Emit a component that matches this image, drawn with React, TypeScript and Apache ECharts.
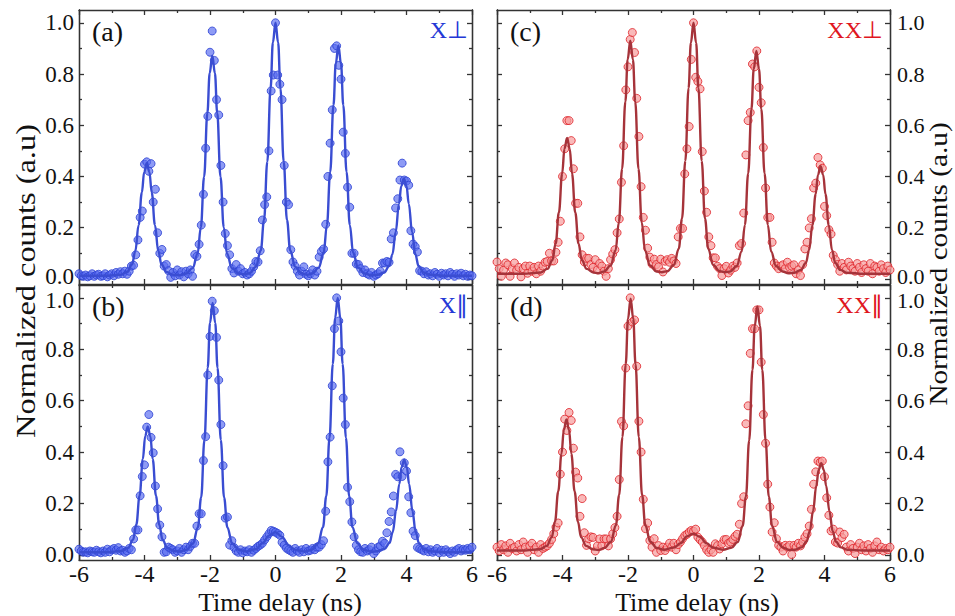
import React, { useEffect, useRef } from "react";
import * as echarts from "echarts";

// time bins (ns), 1/15 ns spacing from -6 to 6
const TIME: number[] = Array.from({ length: 181 }, (_, i) => Math.round((-6 + i / 15) * 1000) / 1000);

const X_TICK_LABELS = ["-6", "-4", "-2", "0", "2", "4", "6"];
const Y_MAJOR = [0, 0.2, 0.4, 0.6, 0.8, 1.0];
const Y_MINOR = [0.1, 0.3, 0.5, 0.7, 0.9];

// (a) X perpendicular
const COUNTS_A = [
  0.020, 0.012, 0.010, 0.015, 0.008, 0.012, 0.020, 0.010, 0.015, 0.018,
  0.010, 0.012, 0.020, 0.008, 0.015, 0.020, 0.012, 0.025, 0.018, 0.028,
  0.020, 0.030, 0.018, 0.030, 0.050, 0.053, 0.094, 0.152, 0.240, 0.265,
  0.448, 0.457, 0.420, 0.450, 0.300, 0.350, 0.180, 0.100, 0.115, 0.050,
  0.056, 0.032, 0.006, 0.025, 0.012, 0.035, 0.015, 0.028, 0.008, 0.030,
  0.020, 0.035, 0.010, 0.095, 0.088, 0.135, 0.210, 0.330, 0.510, 0.635,
  0.885, 0.968, 0.853, 0.700, 0.640, 0.443, 0.300, 0.177, 0.130, 0.094,
  0.040, 0.023, 0.056, 0.030, 0.040, 0.020, 0.025, 0.015, 0.020, 0.030,
  0.047, 0.068, 0.066, 0.110, 0.230, 0.290, 0.320, 0.500, 0.734, 0.796,
  1.000, 0.796, 0.760, 0.700, 0.443, 0.300, 0.290, 0.114, 0.066, 0.050,
  0.030, 0.015, 0.030, 0.047, 0.018, 0.012, 0.020, 0.035, 0.015, 0.030,
  0.085, 0.107, 0.117, 0.213, 0.400, 0.530, 0.660, 0.900, 0.910, 0.834,
  0.780, 0.573, 0.490, 0.358, 0.280, 0.100, 0.100, 0.058, 0.056, 0.040,
  0.025, 0.035, 0.020, 0.015, 0.025, 0.010, 0.015, 0.020, 0.030, 0.062,
  0.062, 0.068, 0.065, 0.156, 0.180, 0.277, 0.313, 0.386, 0.452, 0.386,
  0.382, 0.366, 0.188, 0.136, 0.126, 0.105, 0.032, 0.030, 0.020, 0.028,
  0.015, 0.020, 0.012, 0.025, 0.018, 0.010, 0.022, 0.015, 0.020, 0.012,
  0.025, 0.018, 0.010, 0.020, 0.015, 0.022, 0.012, 0.018, 0.010, 0.015,
  0.012,
];

// (b) X parallel
const COUNTS_B = [
  0.022, 0.015, 0.010, 0.012, 0.008, 0.015, 0.012, 0.010, 0.018, 0.012,
  0.008, 0.015, 0.010, 0.022, 0.012, 0.020, 0.025, 0.018, 0.028, 0.015,
  0.018, 0.010, 0.015, 0.025, 0.020, 0.062, 0.097, 0.097, 0.230, 0.305,
  0.350, 0.497, 0.546, 0.457, 0.397, 0.268, 0.179, 0.116, 0.070, 0.010,
  0.012, 0.030, 0.025, 0.020, 0.010, 0.015, 0.025, 0.010, 0.020, 0.030,
  0.020, 0.033, 0.045, 0.045, 0.112, 0.160, 0.160, 0.367, 0.460, 0.700,
  0.850, 0.987, 0.950, 0.846, 0.680, 0.507, 0.347, 0.143, 0.147, 0.038,
  0.055, 0.029, 0.015, 0.010, 0.020, 0.008, 0.015, 0.012, 0.020, 0.010,
  0.018, 0.025, 0.033, 0.038, 0.045, 0.058, 0.070, 0.082, 0.095, 0.092,
  0.088, 0.083, 0.076, 0.049, 0.038, 0.026, 0.020, 0.015, 0.010, 0.025,
  0.015, 0.010, 0.020, 0.012, 0.025, 0.015, 0.018, 0.025, 0.020, 0.030,
  0.030, 0.040, 0.055, 0.170, 0.362, 0.458, 0.658, 0.880, 1.000, 0.910,
  0.790, 0.610, 0.507, 0.263, 0.207, 0.128, 0.070, 0.037, 0.020, 0.012,
  0.010, 0.025, 0.015, 0.020, 0.030, 0.005, 0.015, 0.030, 0.035, 0.053,
  0.045, 0.086, 0.130, 0.167, 0.229, 0.313, 0.304, 0.401, 0.305, 0.358,
  0.326, 0.226, 0.164, 0.092, 0.075, 0.029, 0.024, 0.020, 0.015, 0.025,
  0.012, 0.020, 0.010, 0.015, 0.025, 0.008, 0.018, 0.010, 0.020, 0.012,
  0.005, 0.015, 0.010, 0.020, 0.025, 0.015, 0.022, 0.018, 0.025, 0.020,
  0.030,
];

// (c) XX perpendicular
const COUNTS_C = [
  0.066, 0.040, 0.010, 0.034, 0.062, 0.055, 0.010, 0.040, 0.062, 0.034,
  0.045, 0.008, 0.040, 0.050, 0.022, 0.050, 0.030, 0.045, 0.020, 0.050,
  0.030, 0.050, 0.065, 0.068, 0.100, 0.070, 0.070, 0.104, 0.143, 0.225,
  0.400, 0.508, 0.618, 0.618, 0.540, 0.430, 0.295, 0.295, 0.164, 0.094,
  0.066, 0.080, 0.080, 0.056, 0.045, 0.075, 0.035, 0.060, 0.050, 0.030,
  0.010, 0.040, 0.075, 0.097, 0.114, 0.180, 0.234, 0.377, 0.520, 0.738,
  0.828, 0.935, 0.962, 0.884, 0.705, 0.556, 0.360, 0.240, 0.190, 0.120,
  0.085, 0.058, 0.077, 0.056, 0.047, 0.077, 0.027, 0.069, 0.075, 0.065,
  0.080, 0.070, 0.060, 0.164, 0.197, 0.197, 0.410, 0.508, 0.595, 0.857,
  1.000, 0.787, 0.771, 0.742, 0.497, 0.343, 0.260, 0.164, 0.130, 0.082,
  0.082, 0.049, 0.040, 0.013, 0.040, 0.049, 0.023, 0.034, 0.050, 0.045,
  0.062, 0.130, 0.138, 0.257, 0.484, 0.618, 0.650, 0.839, 0.828, 0.890,
  0.748, 0.688, 0.513, 0.355, 0.240, 0.240, 0.143, 0.062, 0.050, 0.040,
  0.050, 0.055, 0.040, 0.065, 0.045, 0.050, 0.055, 0.020, 0.035, 0.013,
  0.056, 0.117, 0.143, 0.199, 0.235, 0.355, 0.374, 0.474, 0.445, 0.432,
  0.283, 0.247, 0.192, 0.175, 0.092, 0.075, 0.056, 0.030, 0.060, 0.045,
  0.035, 0.065, 0.050, 0.040, 0.030, 0.060, 0.045, 0.025, 0.055, 0.040,
  0.030, 0.060, 0.020, 0.050, 0.045, 0.030, 0.055, 0.040, 0.025, 0.050,
  0.035,
];

// (d) XX parallel
const COUNTS_D = [
  0.030, 0.015, 0.040, 0.020, 0.035, 0.010, 0.045, 0.025, 0.030, 0.015,
  0.040, 0.020, 0.050, 0.030, 0.010, 0.035, 0.045, 0.020, 0.030, 0.010,
  0.040, 0.025, 0.030, 0.035, 0.045, 0.060, 0.082, 0.108, 0.124, 0.314,
  0.400, 0.528, 0.484, 0.554, 0.523, 0.415, 0.322, 0.299, 0.150, 0.219,
  0.086, 0.037, 0.063, 0.070, 0.068, 0.015, 0.035, 0.062, 0.035, 0.062,
  0.062, 0.035, 0.062, 0.082, 0.106, 0.150, 0.293, 0.519, 0.502, 0.727,
  0.890, 1.000, 0.906, 0.914, 0.734, 0.520, 0.400, 0.216, 0.102, 0.124,
  0.056, 0.030, 0.063, 0.010, 0.036, 0.017, 0.030, 0.017, 0.030, 0.045,
  0.030, 0.045, 0.020, 0.040, 0.050, 0.063, 0.075, 0.080, 0.089, 0.095,
  0.092, 0.100, 0.069, 0.059, 0.050, 0.036, 0.020, 0.010, 0.020, 0.010,
  0.043, 0.036, 0.023, 0.043, 0.059, 0.060, 0.045, 0.050, 0.060, 0.072,
  0.080, 0.119, 0.200, 0.226, 0.510, 0.580, 0.784, 0.880, 0.880, 0.953,
  0.953, 0.750, 0.546, 0.434, 0.275, 0.186, 0.089, 0.125, 0.063, 0.037,
  0.030, 0.015, 0.037, 0.030, 0.037, 0.001, 0.037, 0.030, 0.045, 0.035,
  0.050, 0.069, 0.082, 0.112, 0.177, 0.275, 0.323, 0.365, 0.360, 0.365,
  0.304, 0.222, 0.154, 0.093, 0.100, 0.050, 0.046, 0.089, 0.067, 0.080,
  0.030, 0.015, 0.040, 0.025, 0.005, 0.030, 0.045, 0.020, 0.035, 0.015,
  0.040, 0.025, 0.010, 0.035, 0.050, 0.020, 0.030, 0.015, 0.025, 0.020,
  0.030,
];

// fitted curves [time (ns), normalized counts]
const FIT_A = [
  [-6, 0.012], [-5.2, 0.012], [-4.73, 0.016], [-4.53, 0.027], [-4.38, 0.056], [-4.28, 0.109], [-4.18, 0.21],
  [-4.08, 0.338], [-4.01, 0.417], [-3.93, 0.452], [-3.85, 0.417], [-3.78, 0.338], [-3.68, 0.21], [-3.58, 0.109],
  [-3.48, 0.056], [-3.33, 0.027], [-3.13, 0.016], [-2.93, 0.014], [-2.73, 0.021], [-2.53, 0.042], [-2.38, 0.098],
  [-2.28, 0.201], [-2.18, 0.399], [-2.08, 0.648], [-2.01, 0.803], [-1.93, 0.872], [-1.85, 0.803], [-1.78, 0.648],
  [-1.68, 0.399], [-1.58, 0.201], [-1.48, 0.098], [-1.33, 0.042], [-1.13, 0.021], [-0.97, 0.018], [-0.8, 0.022],
  [-0.6, 0.047], [-0.45, 0.111], [-0.35, 0.23], [-0.25, 0.458], [-0.15, 0.745], [-0.08, 0.923], [0, 1.0],
  [0.08, 0.923], [0.15, 0.745], [0.25, 0.458], [0.35, 0.23], [0.45, 0.111], [0.6, 0.047], [0.8, 0.022],
  [0.97, 0.016], [1.12, 0.021], [1.32, 0.044], [1.47, 0.102], [1.57, 0.21], [1.67, 0.417], [1.77, 0.678],
  [1.84, 0.84], [1.92, 0.912], [2.0, 0.84], [2.07, 0.678], [2.17, 0.417], [2.27, 0.21], [2.37, 0.102],
  [2.52, 0.044], [2.72, 0.021], [2.92, 0.014], [3.12, 0.016], [3.32, 0.025], [3.47, 0.05], [3.57, 0.096],
  [3.67, 0.183], [3.77, 0.293], [3.84, 0.362], [3.92, 0.392], [4.0, 0.362], [4.07, 0.293], [4.17, 0.183],
  [4.27, 0.096], [4.37, 0.05], [4.52, 0.025], [4.72, 0.016], [5.2, 0.012], [6, 0.012],
];

const FIT_B = [
  [-6, 0.01], [-5.2, 0.01], [-4.7, 0.015], [-4.5, 0.027], [-4.35, 0.059], [-4.25, 0.118], [-4.15, 0.23],
  [-4.05, 0.373], [-3.98, 0.461], [-3.9, 0.5], [-3.82, 0.461], [-3.75, 0.373], [-3.65, 0.23], [-3.55, 0.118],
  [-3.45, 0.059], [-3.3, 0.027], [-3.1, 0.015], [-2.91, 0.013], [-2.72, 0.02], [-2.52, 0.044], [-2.37, 0.107],
  [-2.27, 0.223], [-2.17, 0.447], [-2.07, 0.728], [-2.0, 0.902], [-1.92, 0.98], [-1.84, 0.902], [-1.77, 0.728],
  [-1.67, 0.447], [-1.57, 0.223], [-1.47, 0.107], [-1.32, 0.044], [-1.12, 0.02], [-0.9, 0.013], [-0.6, 0.022],
  [-0.4, 0.045], [-0.2, 0.075], [0, 0.088], [0.2, 0.07], [0.4, 0.038], [0.6, 0.02], [0.9, 0.013],
  [1.1, 0.02], [1.3, 0.045], [1.45, 0.108], [1.55, 0.228], [1.65, 0.456], [1.75, 0.743], [1.82, 0.921],
  [1.9, 1.0], [1.98, 0.921], [2.05, 0.743], [2.15, 0.456], [2.25, 0.228], [2.35, 0.108], [2.5, 0.045],
  [2.7, 0.02], [2.92, 0.012], [3.13, 0.014], [3.33, 0.023], [3.48, 0.046], [3.58, 0.089], [3.68, 0.172],
  [3.78, 0.276], [3.85, 0.341], [3.93, 0.37], [4.01, 0.341], [4.08, 0.276], [4.18, 0.172], [4.28, 0.089],
  [4.38, 0.046], [4.53, 0.023], [4.73, 0.014], [5.2, 0.01], [6, 0.01],
];

const FIT_C = [
  [-6, 0.02], [-5.2, 0.02], [-4.66, 0.025], [-4.46, 0.039], [-4.31, 0.073], [-4.21, 0.137], [-4.11, 0.259],
  [-4.01, 0.412], [-3.94, 0.508], [-3.86, 0.55], [-3.78, 0.508], [-3.71, 0.412], [-3.61, 0.259], [-3.51, 0.137],
  [-3.41, 0.073], [-3.26, 0.039], [-3.06, 0.025], [-2.9, 0.022], [-2.73, 0.029], [-2.53, 0.052], [-2.38, 0.111],
  [-2.28, 0.22], [-2.18, 0.43], [-2.08, 0.693], [-2.01, 0.857], [-1.93, 0.93], [-1.85, 0.857], [-1.78, 0.693],
  [-1.68, 0.43], [-1.58, 0.22], [-1.48, 0.111], [-1.33, 0.052], [-1.13, 0.029], [-0.97, 0.026], [-0.8, 0.03],
  [-0.6, 0.054], [-0.45, 0.118], [-0.35, 0.236], [-0.25, 0.461], [-0.15, 0.745], [-0.08, 0.922], [0, 1.0],
  [0.08, 0.922], [0.15, 0.745], [0.25, 0.461], [0.35, 0.236], [0.45, 0.118], [0.6, 0.054], [0.8, 0.03],
  [0.96, 0.026], [1.12, 0.029], [1.32, 0.05], [1.47, 0.107], [1.57, 0.211], [1.67, 0.412], [1.77, 0.664],
  [1.84, 0.82], [1.92, 0.89], [2.0, 0.82], [2.07, 0.664], [2.17, 0.412], [2.27, 0.211], [2.37, 0.107],
  [2.52, 0.05], [2.72, 0.029], [2.9, 0.022], [3.08, 0.024], [3.28, 0.035], [3.43, 0.062], [3.53, 0.112],
  [3.63, 0.209], [3.73, 0.331], [3.8, 0.406], [3.88, 0.44], [3.96, 0.406], [4.03, 0.331], [4.13, 0.209],
  [4.23, 0.112], [4.33, 0.062], [4.48, 0.035], [4.68, 0.024], [5.2, 0.02], [6, 0.02],
];

const FIT_D = [
  [-6, 0.017], [-5.2, 0.017], [-4.68, 0.022], [-4.48, 0.035], [-4.33, 0.068], [-4.23, 0.129], [-4.13, 0.247],
  [-4.03, 0.394], [-3.96, 0.486], [-3.88, 0.527], [-3.8, 0.486], [-3.73, 0.394], [-3.63, 0.247], [-3.53, 0.129],
  [-3.43, 0.068], [-3.28, 0.035], [-3.08, 0.022], [-2.9, 0.019], [-2.72, 0.027], [-2.52, 0.051], [-2.37, 0.115],
  [-2.27, 0.233], [-2.17, 0.458], [-2.07, 0.742], [-2.0, 0.919], [-1.92, 0.997], [-1.84, 0.919], [-1.77, 0.742],
  [-1.67, 0.458], [-1.57, 0.233], [-1.47, 0.115], [-1.32, 0.051], [-1.12, 0.027], [-0.9, 0.02], [-0.6, 0.028],
  [-0.4, 0.045], [-0.2, 0.072], [0, 0.082], [0.2, 0.07], [0.4, 0.045], [0.6, 0.028], [0.9, 0.02],
  [1.15, 0.027], [1.35, 0.05], [1.5, 0.112], [1.6, 0.226], [1.7, 0.445], [1.8, 0.72], [1.87, 0.891],
  [1.95, 0.967], [2.03, 0.891], [2.1, 0.72], [2.2, 0.445], [2.3, 0.226], [2.4, 0.112], [2.55, 0.05],
  [2.75, 0.027], [2.93, 0.019], [3.1, 0.02], [3.3, 0.029], [3.45, 0.051], [3.55, 0.092], [3.65, 0.17],
  [3.75, 0.269], [3.82, 0.33], [3.9, 0.357], [3.98, 0.33], [4.05, 0.269], [4.15, 0.17], [4.25, 0.092],
  [4.35, 0.051], [4.5, 0.029], [4.7, 0.02], [5.2, 0.017], [6, 0.017],
];

const PANEL_TAGS = ["(a)", "(b)", "(c)", "(d)"];
const PANEL_NAMES = ["X\u22A5", "X\u2225", "XX\u22A5", "XX\u2225"];
const X_TITLE = "Time delay (ns)";
const Y_TITLE = "Normalized counts (a.u)";

const FONT = "Liberation Serif";
const INK = "#111";
const AXIS = "#333";

const BLUE = { fill: "rgba(88,108,240,0.85)", stroke: "#2a40d2", line: "#3a4dd2", text: "#2438d6" };
const RED = { fill: "rgba(246,158,158,0.9)", stroke: "#de2228", line: "#a6333a", text: "#e0161e" };

export default function App() {
  const ref = useRef<HTMLDivElement>(null);

  useEffect(() => {
    if (!ref.current) return;
    const chart = echarts.init(ref.current, undefined, { renderer: "svg" });

    const counts = [COUNTS_A, COUNTS_B, COUNTS_C, COUNTS_D];
    const fits = [FIT_A, FIT_B, FIT_C, FIT_D];
    const boxes = [
      { left: 79, top: 10, width: 393, height: 274 },
      { left: 79, top: 285, width: 393, height: 275 },
      { left: 497, top: 10, width: 393, height: 274 },
      { left: 497, top: 285, width: 393, height: 275 },
    ];
    const palette = [BLUE, BLUE, RED, RED];
    const leftCol = [true, true, false, false];
    const bottomRow = [false, true, false, true];

    const grid: any[] = [];
    const xAxis: any[] = [];
    const yAxis: any[] = [];
    const series: any[] = [];
    const graphic: any[] = [];

    const lineStyle = { color: AXIS, width: 1.3 };

    for (let p = 0; p < 4; p++) {
      grid.push({ ...boxes[p], containLabel: false });
      for (const pos of ["bottom", "top"]) {
        xAxis.push({
          type: "value",
          gridIndex: p,
          position: pos,
          min: -6,
          max: 6,
          interval: 2,
          axisLine: { show: true, onZero: false, lineStyle },
          axisTick: { show: true, inside: true, length: 5, lineStyle },
          minorTick: { show: true, splitNumber: 2, length: 3, lineStyle },
          splitLine: { show: false },
          minorSplitLine: { show: false },
          axisLabel: {
            show: pos === "bottom" && bottomRow[p],
            fontFamily: FONT,
            fontSize: 24,
            color: INK,
            margin: 2,
            formatter: (v: number) => X_TICK_LABELS[Math.round((v + 6) / 2)] ?? String(v),
          },
        });
      }
      const isTop = !bottomRow[p];
      const fs = leftCol[p] ? 23 : 22;
      for (const pos of ["left", "right"]) {
        for (const kind of ["major", "minor"]) {
          const vals = kind === "major" ? Y_MAJOR : Y_MINOR;
          const showLabel = kind === "major" && ((pos === "left" && leftCol[p]) || (pos === "right" && !leftCol[p]));
          yAxis.push({
            type: "value",
            gridIndex: p,
            position: pos,
            min: -0.02,
            max: 1.05,
            axisLine: { show: true, onZero: false, lineStyle },
            axisTick: { show: true, inside: true, length: kind === "major" ? 5 : 3, lineStyle, customValues: vals },
            splitLine: { show: false },
            axisLabel: {
              show: showLabel,
              customValues: Y_MAJOR,
              fontFamily: FONT,
              fontSize: fs,
              color: INK,
              margin: pos === "left" ? 5 : 7,
              formatter: (v: number) => {
                const s = v.toFixed(1);
                if (isTop && v === 0) return "{lo|" + s + "}";
                if (!isTop && v === 1) return "{hi|" + s + "}";
                return "{n|" + s + "}";
              },
              rich: {
                n: { fontFamily: FONT, fontSize: fs, color: INK },
                lo: { fontFamily: FONT, fontSize: fs, color: INK, padding: [0, 0, 5, 0] },
                hi: { fontFamily: FONT, fontSize: fs, color: INK, padding: [5, 0, 0, 0] },
              },
            },
          });
        }
      }
      const c = palette[p];
      series.push({
        type: "scatter",
        xAxisIndex: 2 * p,
        yAxisIndex: 4 * p,
        data: TIME.map((t, i) => [t, counts[p][i]]),
        symbol: "circle",
        symbolSize: 8,
        itemStyle: { color: c.fill, borderColor: c.stroke, borderWidth: 1 },
        z: 2,
      });
      series.push({
        type: "line",
        xAxisIndex: 2 * p,
        yAxisIndex: 4 * p,
        data: fits[p],
        showSymbol: false,
        symbol: "none",
        smooth: 0.4,
        smoothMonotone: "x",
        lineStyle: { color: c.line, width: 2.4 },
        z: 3,
      });

      const b = boxes[p];
      graphic.push({
        type: "text",
        x: b.left + 13,
        y: b.top + 21,
        style: {
          text: PANEL_TAGS[p],
          fontFamily: FONT,
          fontSize: 28,
          fill: INK,
          align: "left",
          verticalAlign: "middle",
        },
        z: 10,
      });
      graphic.push({
        type: "text",
        x: b.left + b.width - (leftCol[p] ? 4 : 7),
        y: b.top + 20,
        style: {
          text: PANEL_NAMES[p],
          fontFamily: FONT,
          fontSize: 24,
          fill: palette[p].text,
          align: "right",
          verticalAlign: "middle",
        },
        z: 10,
      });
    }

    const titleStyle = (text: string, size: number) => ({
      text,
      fontFamily: FONT,
      fontSize: size,
      fill: INK,
      align: "center",
      verticalAlign: "middle",
    });
    graphic.push({ type: "text", x: 280, y: 602, style: titleStyle(X_TITLE, 26), z: 10 });
    graphic.push({ type: "text", x: 697, y: 602, style: titleStyle(X_TITLE, 26), z: 10 });
    graphic.push({
      type: "text", x: 25, y: 281, rotation: Math.PI / 2, scaleX: 1.2,
      style: titleStyle(Y_TITLE, 27), z: 10,
    });
    graphic.push({
      type: "text", x: 939, y: 264, rotation: Math.PI / 2, scaleX: 1.17,
      style: titleStyle(Y_TITLE, 25), z: 10,
    });

    chart.setOption({
      animation: false,
      backgroundColor: "#fff",
      textStyle: { fontFamily: FONT },
      grid,
      xAxis,
      yAxis,
      series,
      graphic,
    });

    return () => chart.dispose();
  }, []);

  return (
    <div
      ref={ref}
      style={{ position: "absolute", left: 0, top: 0, width: 955, height: 616, background: "#fff" }}
    />
  );
}
